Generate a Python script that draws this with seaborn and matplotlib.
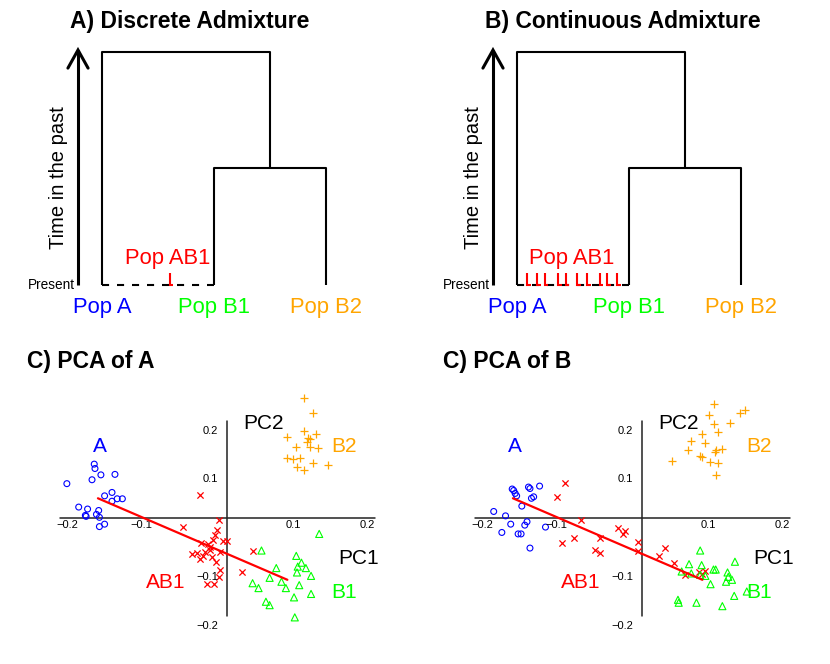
import matplotlib
matplotlib.use("Agg")
import matplotlib.pyplot as plt
import seaborn as sns
import pandas as pd

# ---- tree (panels A and B) ----
pop_names = ["Pop A", "Pop B1", "Pop B2"]
pop_x = [1, 2, 3]
pop_colors = ["#0000FF", "#00FF00", "#FFA500"]
split_b_height = 1.0
root_height = 2.0
discrete_pulse_x = [1.6]
continuous_pulse_x = [1.089, 1.179, 1.247, 1.366, 1.432, 1.536, 1.625, 1.738, 1.804, 1.893]

# ---- PCA (panels C and D) ----
disc_a_x = [-0.216, -0.179, -0.178, -0.182, -0.170, -0.151, -0.155, -0.165, -0.155, -0.148,
            -0.141, -0.200, -0.188, -0.173, -0.191, -0.190, -0.176, -0.172, -0.172, -0.165]
disc_a_y = [0.071, 0.111, 0.102, 0.079, 0.089, 0.090, 0.053, 0.046, 0.035, 0.040,
            0.040, 0.023, 0.019, 0.016, 0.006, 0.004, 0.008, 0.002, -0.017, -0.012]
disc_ab1_x = [-0.036, -0.010, -0.059, -0.013, -0.016, -0.019, -0.005, 0.001, -0.035, -0.025,
              -0.022, -0.023, -0.029, -0.009, -0.047, -0.040, -0.032, -0.036, -0.020, -0.014,
              -0.009, 0.035, 0.021, -0.027, -0.017, -0.011]
disc_ab1_y = [0.048, -0.003, -0.017, -0.023, -0.034, -0.044, -0.046, -0.046, -0.050, -0.053,
              -0.058, -0.064, -0.070, -0.070, -0.073, -0.072, -0.077, -0.084, -0.080, -0.089,
              -0.105, -0.068, -0.111, -0.135, -0.135, -0.121]
disc_b1_x = [0.125, 0.047, 0.094, 0.101, 0.096, 0.107, 0.067, 0.058, 0.095, 0.114,
             0.074, 0.098, 0.035, 0.043, 0.080, 0.091, 0.114, 0.053, 0.058, 0.092]
disc_b1_y = [-0.032, -0.066, -0.077, -0.091, -0.099, -0.102, -0.102, -0.122, -0.111, -0.118,
             -0.130, -0.137, -0.133, -0.143, -0.143, -0.162, -0.155, -0.171, -0.178, -0.203]
disc_b2_x = [0.104, 0.117, 0.104, 0.121, 0.082, 0.110, 0.113, 0.108, 0.094, 0.112,
             0.124, 0.081, 0.090, 0.099, 0.116, 0.095, 0.105, 0.137]
disc_b2_y = [0.246, 0.215, 0.179, 0.173, 0.166, 0.164, 0.162, 0.157, 0.147, 0.147,
             0.145, 0.123, 0.122, 0.123, 0.113, 0.105, 0.098, 0.109]

cont_a_x = [-0.175, -0.173, -0.171, -0.169, -0.153, -0.151, -0.138, -0.149, -0.146, -0.162,
            -0.200, -0.184, -0.155, -0.158, -0.177, -0.130, -0.189, -0.167, -0.163, -0.151]
cont_a_y = [0.060, 0.057, 0.051, 0.046, 0.064, 0.061, 0.066, 0.041, 0.044, 0.025,
            0.014, 0.005, -0.007, -0.014, -0.012, -0.018, -0.029, -0.032, -0.032, -0.061]
cont_ab1_x = [-0.103, -0.115, -0.082, -0.108, -0.092, -0.057, -0.063, -0.056, -0.032, -0.025,
              -0.022, -0.005, -0.005, 0.024, 0.032, 0.044, 0.058, 0.077, 0.081, 0.085]
cont_ab1_y = [0.073, 0.043, -0.003, -0.051, -0.040, -0.041, -0.065, -0.072, -0.020, -0.032,
              -0.026, -0.049, -0.066, -0.077, -0.061, -0.092, -0.116, -0.111, -0.115, -0.108]
cont_b1_x = [0.079, 0.126, 0.064, 0.081, 0.097, 0.100, 0.054, 0.067, 0.079, 0.086,
             0.116, 0.117, 0.122, 0.114, 0.093, 0.125, 0.142, 0.049, 0.050, 0.074, 0.109]
cont_b1_y = [-0.066, -0.089, -0.094, -0.096, -0.105, -0.105, -0.109, -0.113, -0.116, -0.118,
             -0.111, -0.120, -0.126, -0.130, -0.135, -0.159, -0.150, -0.167, -0.173, -0.173, -0.180]
cont_b2_x = [0.098, 0.091, 0.140, 0.133, 0.098, 0.119, 0.081, 0.103, 0.067, 0.085,
             0.063, 0.101, 0.109, 0.099, 0.079, 0.081, 0.092, 0.103, 0.041, 0.101]
cont_b2_y = [0.234, 0.212, 0.222, 0.215, 0.193, 0.196, 0.173, 0.176, 0.159, 0.154,
             0.139, 0.139, 0.143, 0.135, 0.128, 0.125, 0.116, 0.114, 0.117, 0.088]

admix_line_x = [-0.174, 0.082]
admix_line_y = [0.041, -0.126]
x_ticks = [-0.2, -0.1, 0.1, 0.2]
y_ticks = [0.2, 0.1, -0.1, -0.2]

sns.set_style("white")
plt.rcParams['font.family'] = ['Liberation Sans', 'DejaVu Sans']
plt.rcParams['text.color'] = 'black'

W, H = 830, 664
fig = plt.figure(figsize=(W / 100, H / 100), dpi=100)


def px_axes(left, top, width, height):
    return fig.add_axes([left / W, 1 - (top + height) / H, width / W, height / H])


def fmt(v):
    return f"{v:.1f}".replace("-", "\u2212")


def draw_tree(off, title, pulses, ab1_x):
    ax = px_axes(off, 0, 415, 330)
    ax.set_xlim(1 - 102.3 / 112, 1 + (415 - 102.3) / 112)
    ax.set_ylim((285 - 330) / 116.67, 285 / 116.67)
    ax.axis("off")
    lw = 1.5
    mid = (pop_x[1] + pop_x[2]) / 2
    ax.plot([pop_x[0], pop_x[0], mid, mid], [0, root_height, root_height, split_b_height],
            color="black", lw=lw, solid_capstyle="butt")
    ax.plot([pop_x[1], pop_x[1], pop_x[2], pop_x[2]], [0, split_b_height, split_b_height, 0],
            color="black", lw=lw, solid_capstyle="butt")
    ax.plot([pop_x[0], pop_x[1]], [0, 0], color="black", lw=lw, ls=(0, (3.4, 3.8)))
    for p in pulses:
        ax.plot([p, p, p + 0.03], [0.103, 0, 0], color="#FF0000", lw=lw,
                solid_capstyle="butt", solid_joinstyle="miter")
    # arrow
    ax_x, tip = 0.783, 2.014
    ax.plot([ax_x, ax_x], [0, tip], color="black", lw=2.2, solid_capstyle="butt")
    ax.plot([ax_x - 0.09, ax_x, ax_x + 0.09], [tip - 0.155, tip, tip - 0.155],
            color="black", lw=2.2, solid_joinstyle="miter")
    ax.text(0.756, 0, "Present", ha="right", va="center", fontsize=9.8)
    ax.text(0.613, 0.917, "Time in the past", rotation=90, ha="center", va="center", fontsize=14.5)
    for name, x, c in zip(pop_names, pop_x, pop_colors):
        ax.text(x, -0.189, name, color=c, ha="center", va="center", fontsize=15.8)
    ax.text(ab1_x, 0.231, "Pop AB1", color="#FF0000", ha="center", va="center", fontsize=15.8)
    fig.text((off + 70) / W, 1 - 21.7 / H, title, ha="left", va="center",
             fontsize=16.5, fontweight="bold")


def draw_pca(off, title, title_x, a, ab1, b1, b2):
    ax = px_axes(off, 385, 415, 279)
    ox, oy, sx, sy = 226.7, 518.3, 740, 488
    ax.set_xlim((0 - ox) / sx, (415 - ox) / sx)
    ax.set_ylim((oy - 664) / sy, (oy - 385) / sy)
    ax.axis("off")
    ax.plot([-0.225, 0.2], [0, 0], color="#222222", lw=1.1, zorder=1)
    ax.plot([0, 0], [-0.2, 0.2], color="#222222", lw=1.1, zorder=1)
    for t in x_ticks:
        ax.annotate(fmt(t), (t, 0), xytext=(0, -1.5), textcoords="offset points",
                    ha="right", va="top", fontsize=8)
    for t in y_ticks:
        ax.annotate(fmt(t), (0, t), xytext=(-6, -7.2), textcoords="offset points",
                    ha="right", va="center", fontsize=8)
    sns.scatterplot(x=a[0], y=a[1], ax=ax, marker="o", color="#0000FF", facecolor="none",
                    edgecolor="#0000FF", s=18, linewidth=0.8, legend=False, zorder=2)
    sns.scatterplot(x=ab1[0], y=ab1[1], ax=ax, marker="x", color="#FF0000", s=20,
                    linewidth=0.9, legend=False, zorder=2)
    sns.scatterplot(x=b1[0], y=b1[1], ax=ax, marker="^", color="#00FF00", facecolor="none",
                    edgecolor="#00FF00", s=26, linewidth=0.8, legend=False, zorder=2)
    sns.scatterplot(x=b2[0], y=b2[1], ax=ax, marker="+", color="#FFA500", s=36,
                    linewidth=0.9, legend=False, zorder=2)
    ax.plot(admix_line_x, admix_line_y, color="#FF0000", lw=1.6, zorder=3)
    lab = dict(ha="center", va="center", fontsize=15)
    ax.text(-0.171, 0.147, "A", color="#0000FF", **lab)
    ax.text(0.159, 0.147, "B2", color="#FFA500", **lab)
    ax.text(0.0495, 0.195, "PC2", color="black", **lab)
    ax.text(0.178, -0.082, "PC1", color="black", **lab)
    ax.text(-0.083, -0.131, "AB1", color="#FF0000", **lab)
    ax.text(0.158, -0.152, "B1", color="#00FF00", **lab)
    fig.text(title_x / W, 1 - 361.7 / H, title, ha="left", va="center",
             fontsize=16.5, fontweight="bold")


draw_tree(0, "A) Discrete Admixture", discrete_pulse_x, 1.587)
draw_tree(415, "B) Continuous Admixture", continuous_pulse_x, 1.486)
draw_pca(0, "C) PCA of A", 27.3, (disc_a_x, disc_a_y), (disc_ab1_x, disc_ab1_y),
         (disc_b1_x, disc_b1_y), (disc_b2_x, disc_b2_y))
draw_pca(415, "C) PCA of B", 443.3, (cont_a_x, cont_a_y), (cont_ab1_x, cont_ab1_y),
         (cont_b1_x, cont_b1_y), (cont_b2_x, cont_b2_y))

fig.savefig("out.png", dpi=100)
